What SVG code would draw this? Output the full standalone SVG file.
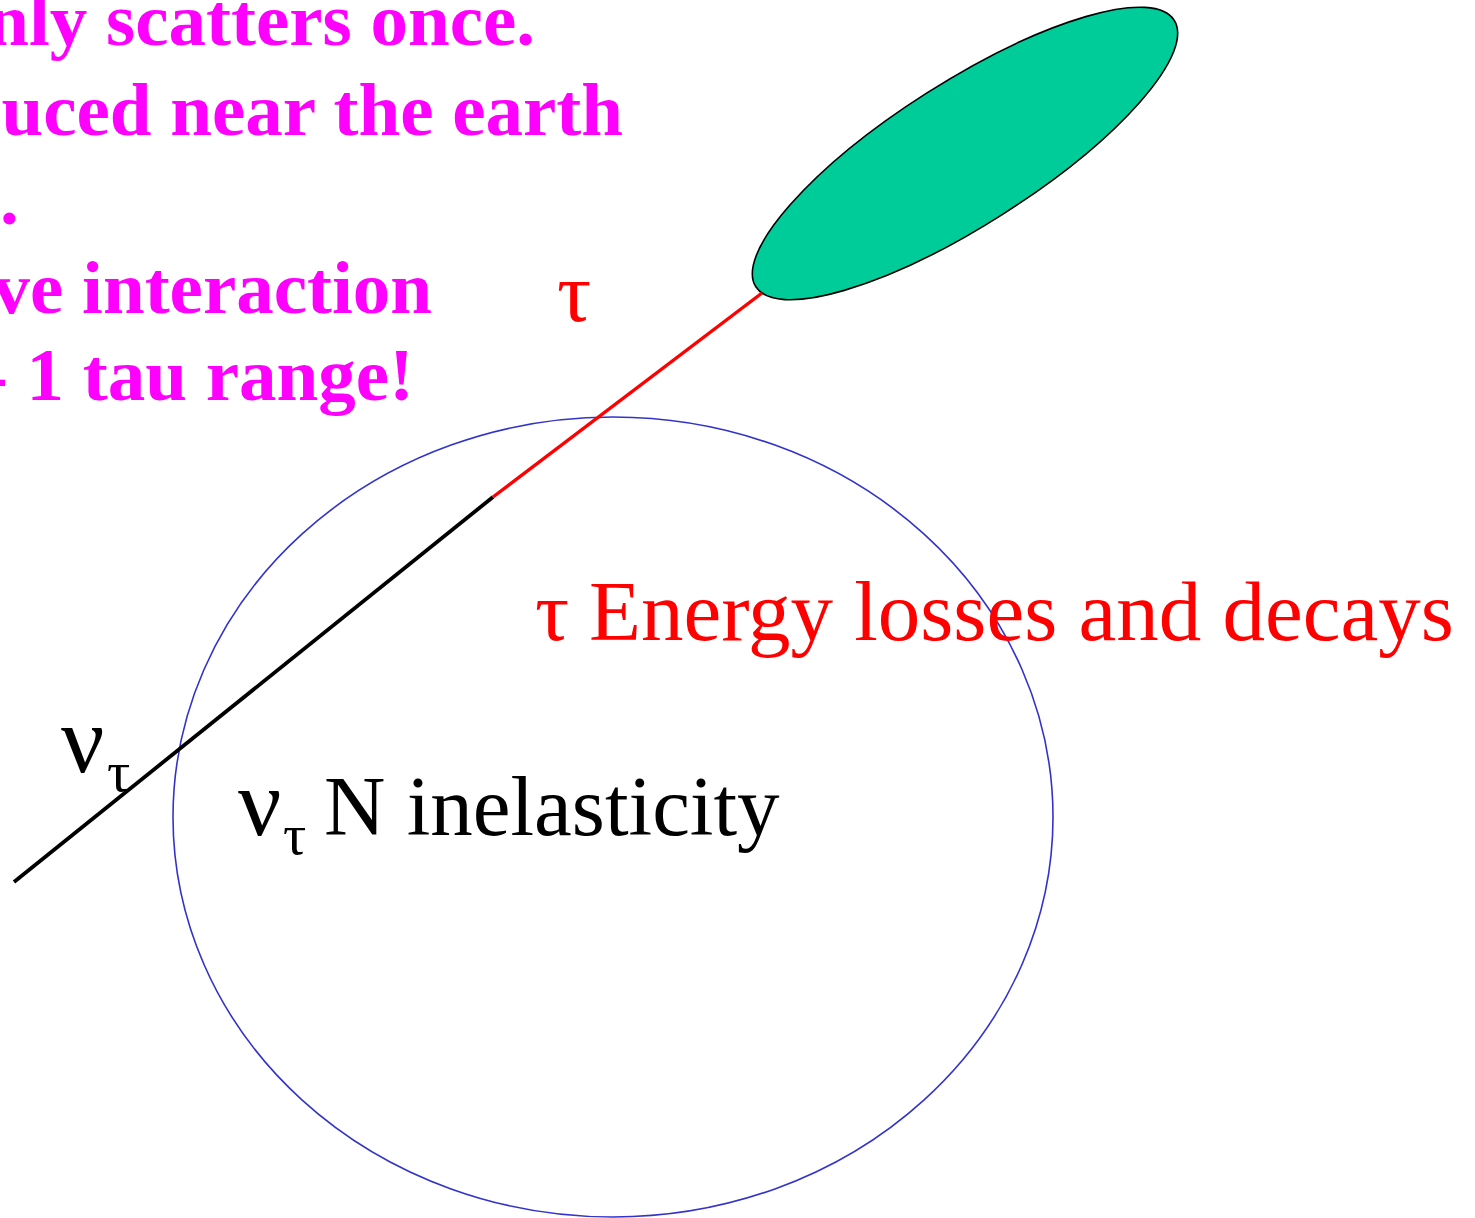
<svg xmlns="http://www.w3.org/2000/svg" width="1475" height="1218" viewBox="0 0 1475 1218">
<style>
.mag{font-family:"Liberation Serif","Times New Roman",serif;font-weight:bold;font-size:75px;fill:#ff00ff}
.red{font-family:"Liberation Serif","Times New Roman",serif;font-size:85px;fill:#ff0000}
.blk{font-family:"Liberation Serif","Times New Roman",serif;font-size:85px;fill:#000000}
.nu{font-size:96px}
.sub{font-size:58px}
</style>
<rect width="1475" height="1218" fill="#ffffff"/>
<g id="notes">
<text class="mag" x="535" y="45" text-anchor="end">nly scatters once.</text>
<text class="mag" x="623" y="135" text-anchor="end">uced near the earth</text>
<text class="mag" x="0" y="224">.</text>
<text class="mag" x="432" y="313" text-anchor="end">ve interaction</text>
<text class="mag" x="414" y="400" text-anchor="end">- 1 tau range!</text>
</g>
<g id="earth">
<ellipse cx="613" cy="817" rx="440" ry="400" fill="none" stroke="#3333cc" stroke-width="1.6"/>
</g>
<g id="shower">
<ellipse cx="965" cy="153.5" rx="248" ry="71.5" transform="rotate(-32.5 965 153.5)" fill="#00cc99" stroke="#000000" stroke-width="1.6"/>
</g>
<g id="connectors">
<line x1="14" y1="882" x2="493" y2="497" stroke="#000000" stroke-width="3.8"/>
<line x1="493" y1="497" x2="762" y2="293" stroke="#ff0000" stroke-width="3.4"/>
</g>
<g id="labels">
<text class="red" x="557" y="321" font-size="95">τ</text>
<text class="red" y="640"><tspan x="535">τ</tspan><tspan x="589">Energy losses and decays</tspan></text>
<text class="blk" y="772"><tspan class="nu" x="61">ν</tspan><tspan class="sub" x="107" y="791">τ</tspan></text>
<text class="blk" y="835"><tspan class="nu" x="238">ν</tspan><tspan class="sub" x="283" y="854">τ</tspan><tspan x="324" y="835">N inelasticity</tspan></text>
</g>
</svg>
